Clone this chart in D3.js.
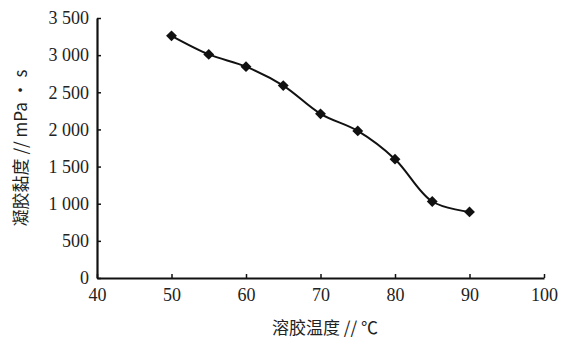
<!doctype html>
<html lang="en">
<head>
<meta charset="utf-8">
<title>凝胶黏度</title>
<style>
  body { margin: 0; background: #fff; }
  .axis path, .axis line { stroke: #111; }
</style>
<script src="https://d3js.org/d3.v7.min.js"></script>
</head>
<body>
<div id="chart"></div>
<script>
// data
var temps = [50, 55, 60, 65, 70, 75, 80, 85, 90];
var viscosity = [3260, 3010, 2845, 2590, 2210, 1980, 1600, 1030, 890];
var xTicks = [40, 50, 60, 70, 80, 90, 100];
var yTicks = [0, 500, 1000, 1500, 2000, 2500, 3000, 3500];
var xTitle = "溶胶温度 // ℃";
var yTitle = "凝胶黏度 // mPa · s";

var width = 562, height = 343;
var margin = {left: 97, right: 18, top: 18, bottom: 65};

var svg = d3.select("#chart").append("svg")
  .attr("width", width)
  .attr("height", height);

var x = d3.scaleLinear().domain([40, 100]).range([margin.left, width - margin.right]);
var y = d3.scaleLinear().domain([0, 3500]).range([height - margin.bottom, margin.top]);

// thousands with a space, like "3 500"
var fmt = function(d) {
  return d >= 1000 ? Math.floor(d / 1000) + " " + d3.format("03d")(d % 1000) : String(d);
};

var xAxis = svg.append("g")
  .attr("class", "axis")
  .attr("transform", "translate(0," + y(0) + ")")
  .call(d3.axisBottom(x).tickValues(xTicks).tickSize(-4).tickSizeOuter(0).tickPadding(10));
xAxis.select(".domain").attr("stroke-width", 2.2);

var yAxis = svg.append("g")
  .attr("class", "axis")
  .attr("transform", "translate(" + x(40) + ",0)")
  .call(d3.axisLeft(y).tickValues(yTicks).tickFormat(fmt).tickSize(-4).tickSizeOuter(0).tickPadding(8));
yAxis.select(".domain").attr("stroke-width", 2.2);

svg.selectAll(".tick text")
  .style("font-family", "'Liberation Serif'")
  .style("font-size", "18px")
  .attr("fill", "#222");
svg.selectAll(".tick line").attr("stroke-width", 1.5);

var pts = temps.map(function(t, i) { return [t, viscosity[i]]; });

var line = d3.line()
  .x(function(d) { return x(d[0]); })
  .y(function(d) { return y(d[1]); })
  .curve(d3.curveCatmullRom.alpha(0.5));

svg.append("path")
  .datum(pts)
  .attr("d", line)
  .attr("fill", "none")
  .attr("stroke", "#111")
  .attr("stroke-width", 2);

svg.selectAll("path.pt")
  .data(pts)
  .enter().append("path")
  .attr("class", "pt")
  .attr("d", d3.symbol().type(d3.symbolDiamond2).size(75))
  .attr("transform", function(d) { return "translate(" + x(d[0]) + "," + y(d[1]) + ")"; })
  .attr("fill", "#111");

svg.append("text")
  .attr("x", 325)
  .attr("y", 334)
  .attr("text-anchor", "middle")
  .style("font-family", "'Noto Sans CJK SC'")
  .style("font-size", "17px")
  .attr("fill", "#222")
  .text(xTitle);

svg.append("text")
  .attr("transform", "translate(27,148) rotate(-90)")
  .attr("text-anchor", "middle")
  .style("font-family", "'Noto Sans CJK SC'")
  .style("font-size", "17px")
  .attr("fill", "#222")
  .text(yTitle);
</script>
</body>
</html>
